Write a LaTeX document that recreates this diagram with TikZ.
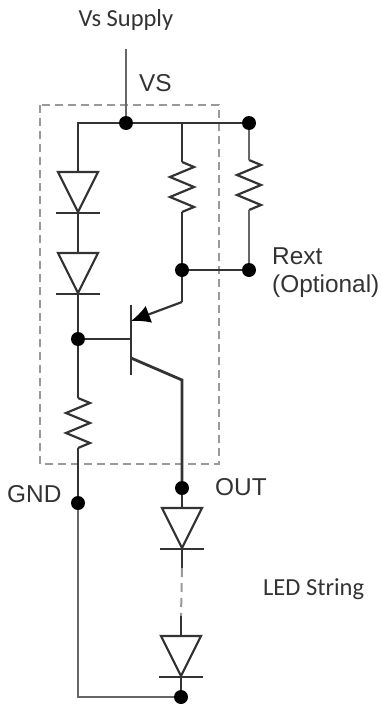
\documentclass[tikz,border=0pt]{standalone}
\usepackage{fontspec}
\setmainfont{Liberation Sans}
\newfontfamily\notefont{Carlito}
\usetikzlibrary{calc,arrows.meta}
\definecolor{wire}{gray}{0.2}
\definecolor{thinwire}{gray}{0.4}
\definecolor{frame}{gray}{0.6}
\tikzset{>=latex, % arrow tips
  schematic/.style={
    x=1pt,
    y=-1pt,
    font={\fontsize{24.4}{28}\selectfont},
    text=black!80,
  },
  bus/.style={line width=2.8pt, color=wire},
  thin bus/.style={line width=2pt, color=thinwire},
  gap bus/.style={line width=2pt, color=frame, dash pattern=on 9pt off 6pt},
  device/.style={line width=2.2pt, color=wire},
  chip/.style={draw=frame, line width=1.6pt, dash pattern=on 8pt off 5pt},
  note/.style={font={\notefont\fontsize{24.5}{28}\selectfont}},
  solder/.style={
    circle,
    fill=black,
    minimum width=14pt,
    minimum height=14pt,
    inner sep=0pt
  },
}
% top contact (#1 a) and bar contact (#1 k) of a diode
\newcommand{\diode}[3]{
  \coordinate (#1 a) at (#2,#3);
  \coordinate (#1 k) at ($(#1 a) + (0,40)$);
  \draw [device,line join=miter] ($(#1 a) + (-20,0)$) -- ($(#1 a) + (20,0)$)
  -- (#1 k) -- cycle;
  \draw [device] ($(#1 k) + (-22,1)$) -- ($(#1 k) + (22,1)$);
}
% top contact (#1 a) and bottom contact (#1 b) of a resistor
\newcommand{\resistor}[4][device]{
  \coordinate (#2 a) at (#3,#4);
  \draw [#1] (#2 a) -- ++(12,5) -- ++(-24,10) -- ++(24,10) -- ++(-24,10)
  -- ++(24,10) -- ++(-12,5) coordinate (#2 b);
}

\begin{document}
\begin{tikzpicture}[schematic]

    \useasboundingbox (0,0) rectangle (381,707);

    \draw [chip] (40,105) rectangle (219,464);

    % contacts
    \node [solder] (vs) at (126,123) {};
    \node [solder] (rail) at (249,123) {};
    \node [solder] (mid) at (182,270) {};
    \node [solder] (rext) at (249,270) {};
    \node [solder] (base) at (78,339) {};
    \node [solder] (out) at (182,488) {};
    \node [solder] (gnd) at (78,503) {};
    \node [solder] (return) at (181,697) {};

    \coordinate (supply) at (126,49);
    \coordinate (tap) at (182,123);
    \coordinate (return corner) at (78,697);

    % devices
    \diode{d1}{78}{172}
    \diode{d2}{78}{253}
    \diode{led1}{182}{508}
    \diode{led2}{181}{636}
    \resistor{r1}{182}{162}
    \resistor[device]{r2}{249}{160}
    \resistor{r3}{78}{398}

    % transistor
    \draw [bus] (131,305) coordinate (bar top)
    -- (131,375) coordinate (bar bottom);
    \coordinate (bar base) at (131,339);
    \coordinate (bar e) at (131,321);
    \coordinate (bar c) at (131,358);
    \coordinate (e knee) at (182,302);
    \coordinate (c knee) at (182,380);

    % wires
    \draw [thin bus] (supply) -- (vs);
    \draw [bus] (d1 a) |- (vs);
    \draw [bus] (vs) -- (rail);
    \draw [bus] (tap) -- (r1 a);
    \draw [bus] (r1 b) -- (mid);
    \draw [thin bus] (rail) -- (r2 a);
    \draw [thin bus] (r2 b) -- (rext);
    \draw [bus] (mid) -- (rext);
    \draw [bus] (d1 k) -- (d2 a);
    \draw [bus] (d2 k) -- (base);
    \draw [bus] (base) -- (bar base);
    \draw [bus] (base) -- (r3 a);
    \draw [bus] (r3 b) -- (gnd);
    \draw [bus] (mid) -- (e knee);
    \draw [line width=2.2pt,color=wire,-{Latex[length=19pt,width=18pt,black]}]
    (e knee) -- (bar e);
    \draw [bus] (bar c) -- (c knee) -- (out);
    \draw [bus] (out) -- (led1 a);
    \draw [bus] (led1 k) -- ++(0,20) coordinate (gap top);
    \draw [bus] (led2 a) -- ++(0,-20) coordinate (gap bottom);
    \draw [gap bus] (gap top) -- (gap bottom);
    \draw [bus] (led2 k) -- (return);
    \draw [thin bus] (gnd) -- (return corner) -- (return);

    % labels
    \node [note] (supply label) at (126,20) {Vs Supply};
    \node [anchor=west,inner sep=0pt] (vs label) at (139,83) {VS};
    \node [anchor=west,inner sep=0pt] (rext label) at (272,256) {Rext};
    \node [anchor=west,inner sep=0pt] (option label) at (272,286) {(Optional)};
    \node [anchor=west,inner sep=0pt] (gnd label) at (7,494) {GND};
    \node [anchor=west,inner sep=0pt] (out label) at (215,487) {OUT};
    \node [note,anchor=west,inner sep=0pt] (string label) at (263,589) {LED String};

\end{tikzpicture}
\end{document}
